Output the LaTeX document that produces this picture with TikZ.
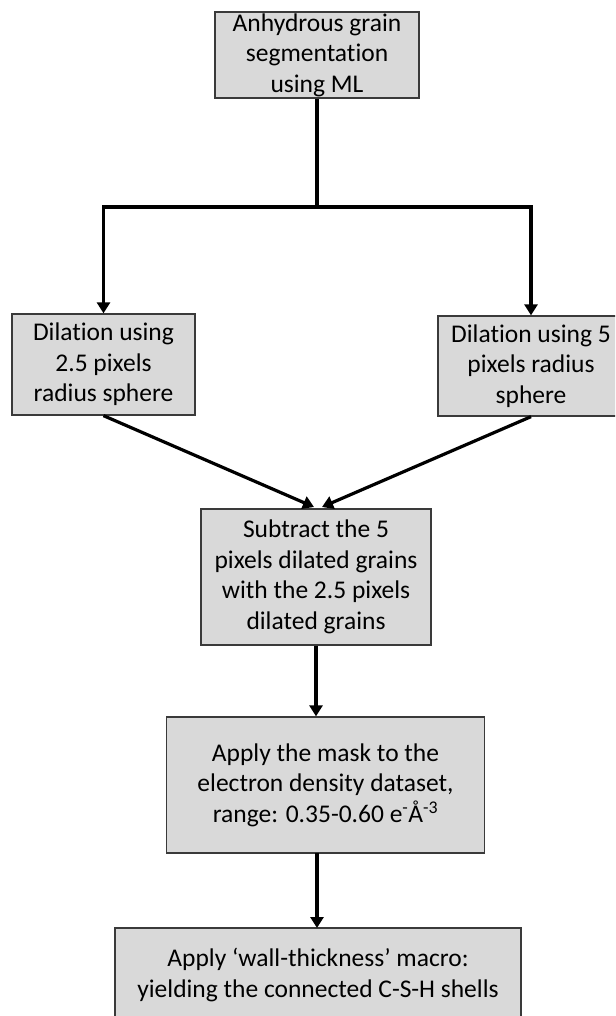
\documentclass[tikz,border=0pt]{standalone}
\usepackage{fontspec}
\setmainfont{Carlito}[Ligatures=NoCommon]
\usetikzlibrary{arrows.meta}
\definecolor{boxfill}{HTML}{D9D9D9}
\definecolor{boxline}{HTML}{3A3A3A}
\tikzset{
  stepbox/.style={draw=boxline, fill=boxfill, line width=1.3pt, align=center, inner sep=0pt,
    font=\fontsize{25.5}{30.5}\selectfont},
  flow/.style={line width=3.2pt, draw=black, -{Triangle[length=11pt,width=13pt]}},
  plainflow/.style={line width=3.2pt, draw=black}
}
\begin{document}
\begin{tikzpicture}[x=1pt,y=1pt]
\useasboundingbox (0,0) rectangle (615,-1016);
\clip (0,0) rectangle (615,-1016);
\node[stepbox, minimum width=204pt, minimum height=86pt] (top) at (317,-55)
  {Anhydrous grain\\segmentation\\using ML};
\node[stepbox, minimum width=183pt, minimum height=101pt] (left) at (103.5,-364.5)
  {Dilation using\\2.5 pixels\\radius sphere};
\node[stepbox, minimum width=186pt, minimum height=100pt] (right) at (531,-366)
  {Dilation using 5\\pixels radius\\sphere};
\node[stepbox, minimum width=230pt, minimum height=136pt] (mid) at (316,-577)
  {Subtract the 5\\pixels dilated grains\\with the 2.5 pixels\\dilated grains};
\node[stepbox, minimum width=318pt, minimum height=136pt] (mask) at (325.5,-785)
  {Apply the mask to the\\electron density dataset,\\range: 0.35-0.60 e\textsuperscript{-}Å\textsuperscript{-3}};
\node[stepbox, minimum width=406pt, minimum height=94pt] (wall) at (318,-975)
  {Apply ‘wall-thickness’ macro:\\yielding the connected C-S-H shells};
\coordinate (split) at (317,-207);
\draw[plainflow] (top.south) -- (split);
\draw[flow, line join=miter] (split) -| (left.north);
\draw[flow, line join=miter] (split) -| (right.north);
\draw[flow] (left.south) -- (314,-507);
\draw[flow] (right.south) -- (322,-507);
\draw[flow] (mid.south) -- (mid.south |- mask.north);
\draw[flow] (317,-853) -- (317,-928);
\end{tikzpicture}
\end{document}
